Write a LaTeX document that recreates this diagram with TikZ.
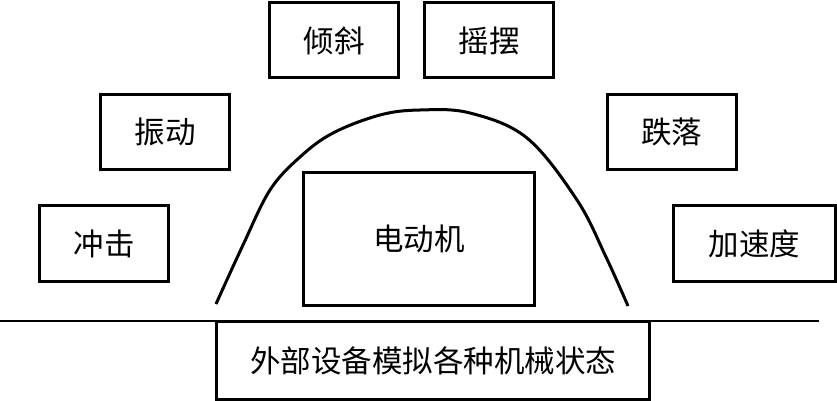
\documentclass[tikz,border=0pt]{standalone}
\usepackage{fontspec}
\setmainfont{Noto Sans CJK SC}
\begin{document}
\begin{tikzpicture}[x=1pt,y=-1pt,
  box/.style={draw,line width=3pt,rectangle,inner sep=0pt,minimum width=129pt,minimum height=75pt,font=\fontsize{30.5}{32}\selectfont},
  outline/.style={line width=3pt}]
\useasboundingbox (0,0) rectangle (837,401);
\node[box] (qx) at (334,40.5) {倾斜};
\node[box] (yb) at (489,40.5) {摇摆};
\node[box] (zd) at (165,132) {振动};
\node[box] (dl) at (671.5,132) {跌落};
\node[box,minimum height=76pt] (cj) at (104,243.5) {冲击};
\node[box,minimum width=162pt,minimum height=76pt] (js) at (754.5,243.5) {加速度};
\node[box,minimum width=231pt,minimum height=133pt] (dj) at (419,239) {电动机};
\node[box,minimum width=433pt,minimum height=78pt] (wb) at (433,360.5) {外部设备模拟各种机械状态};
\coordinate (gl) at (0,321);
\coordinate (gr) at (819,321);
\draw[line width=2.5pt] (gl) -- (gr);
\draw[outline] plot[smooth,tension=0.6] coordinates {(216,304) (243,245) (270,190) (300,157) (333,133) (380,115) (420,110) (470,113) (527,138) (577,200) (606,257) (628,306)};
\end{tikzpicture}
\end{document}
